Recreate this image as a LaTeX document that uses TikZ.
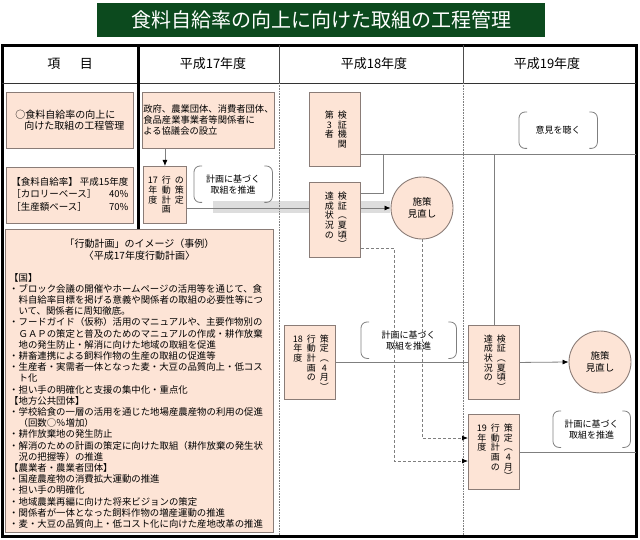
\documentclass[tikz,border=0pt]{standalone}
\usepackage{fontspec}
\setmainfont{Noto Sans CJK JP}
\usetikzlibrary{arrows.meta, calc, positioning}
\definecolor{mafGreen}{HTML}{0C4A1E}
\definecolor{mafPink}{HTML}{FDE4D6}
\definecolor{mafEdge}{HTML}{8A7C77}
\definecolor{mafGrey}{HTML}{7F7F7F}
\definecolor{mafBand}{HTML}{DDDDDD}
\tikzset{
  frameline/.style  = {line width=3pt, black},
  headtxt/.style    = {font=\fontsize{13}{15}\selectfont},
  pinkbox/.style    = {draw=mafEdge, fill=mafPink, line width=0.9pt, inner sep=0pt, anchor=north west},
  tatebox/.style    = {pinkbox, font=\fontsize{9}{9.6}\selectfont},
  bubble/.style     = {inner sep=0pt, anchor=north west, align=center, font=\fontsize{9}{11}\selectfont},
  bubbleline/.style = {mafGrey, line width=0.8pt, rounded corners=6pt},
  roundbox/.style   = {circle, draw=mafEdge, fill=mafPink, line width=0.9pt, minimum size=62pt,
                       inner sep=0pt, align=center, font=\fontsize{9.5}{11.5}\selectfont},
  conn/.style       = {mafGrey, line width=0.8pt},
  dashconn/.style   = {conn, dash pattern=on 3pt off 2pt},
  arrowto/.style    = {-{Latex[length=6pt, width=5pt, color=black]}},
  divider/.style    = {mafGrey, densely dotted, line width=0.6pt},
}

\begin{document}
\begin{tikzpicture}[x=1pt,y=-1pt]
  \newcommand{\tatecol}[1]{\hspace{2pt}\vtop{\let\\\cr\baselineskip=9.6pt\lineskiplimit=-20pt\lineskip=0pt
    \halign{\hfil##\hfil\cr#1\crcr}}\hspace{2pt}}
  \newcommand{\bracketpair}[1]{%
    \draw[bubbleline] ($(#1.north west)+(8,0)$) -- (#1.north west) -- (#1.south west) -- ($(#1.south west)+(8,0)$);
    \draw[bubbleline] ($(#1.north east)+(-8,0)$) -- (#1.north east) -- (#1.south east) -- ($(#1.south east)+(-8,0)$);}
  \useasboundingbox (0,0) rectangle (640,540);
  % title and table frame
  \node[fill=mafGreen, text=white, minimum width=448pt, minimum height=34pt,
        font=\fontsize{20}{24}\selectfont] (title) at (321,20) {食料自給率の向上に向けた取組の工程管理};
  \fill[mafBand] (213,201) rectangle (390,213);
  \draw[frameline] (2.5,45.5) rectangle (636.5,536.5);
  \draw[line width=0.8pt, black!80] (2,83) -- (636,83);
  \draw[frameline] (138,45) -- (138,229);
  \draw[line width=0.8pt, black!70] (279,45) -- (279,83);
  \draw[line width=0.8pt, black!70] (463,45) -- (463,83);
  \draw[divider] (279,83) -- (279,535);
  \draw[divider] (463,83) -- (463,535);
  \node[headtxt] (hItem) at (70,64) {項\hspace{1.5em}目};
  \node[headtxt] (h17) at (213,64) {平成17年度};
  \node[headtxt] (h18) at (374,64) {平成18年度};
  \node[headtxt] (h19) at (547,64) {平成19年度};
  % items column
  \node[pinkbox, minimum width=127pt, minimum height=56pt, align=left,
        font=\fontsize{10}{11.5}\selectfont] (goal) at (6,92)
        {○食料自給率の向上に\\\hspace*{0.9em}向けた取組の工程管理};
  \node[pinkbox, minimum width=127pt, minimum height=56pt, font=\fontsize{9.5}{12.5}\selectfont] (rate) at (6,167)
        {\begin{tabular}{@{}l@{}r@{}}
           \multicolumn{2}{@{}l@{}}{【食料自給率】\hspace{2pt}平成15年度}\\
           ［カロリーベース］&40\%\\
           ［生産額ベース］&70\%
         \end{tabular}};
  \node[pinkbox, minimum width=268pt, minimum height=303pt] (imgbox) at (5,229) {};
  \node[font=\fontsize{10}{12}\selectfont, align=center, anchor=north, inner sep=0pt] (imgttl)
        at ($(imgbox.north)+(0,10)$) {「行動計画」のイメージ（事例）\\〈平成17年度行動計画〉};
  \node[font=\fontsize{9.4}{11.2}\selectfont, align=left, anchor=north west, inner sep=0pt] (imglist)
        at ($(imgbox.north west)+(4,44)$) {%
    【国】\\
    ・ブロック会議の開催やホームページの活用等を通じて、食\\
    \hspace*{1em}料自給率目標を掲げる意義や関係者の取組の必要性等につ\\
    \hspace*{1em}いて、関係者に周知徹底。\\
    ・フードガイド（仮称）活用のマニュアルや、主要作物別の\\
    \hspace*{1em}ＧＡＰの策定と普及のためのマニュアルの作成・耕作放棄\\
    \hspace*{1em}地の発生防止・解消に向けた地域の取組を促進\\
    ・耕畜連携による飼料作物の生産の取組の促進等\\
    ・生産者・実需者一体となった麦・大豆の品質向上・低コス\\
    \hspace*{1em}ト化\\
    ・担い手の明確化と支援の集中化・重点化\\
    【地方公共団体】\\
    ・学校給食の一層の活用を通じた地場産農産物の利用の促進\\
    \hspace*{1em}（回数○％増加）\\
    ・耕作放棄地の発生防止\\
    ・解消のための計画の策定に向けた取組（耕作放棄の発生状\\
    \hspace*{1em}況の把握等）の推進\\
    【農業者・農業者団体】\\
    ・国産農産物の消費拡大運動の推進\\
    ・担い手の明確化\\
    ・地域農業再編に向けた将来ビジョンの策定\\
    ・関係者が一体となった飼料作物の増産運動の推進\\
    ・麦・大豆の品質向上・低コスト化に向けた産地改革の推進};
  % H17
  \node[pinkbox, minimum width=132pt, minimum height=56pt, align=left,
        font=\fontsize{9.3}{11}\selectfont] (council) at (142,92)
        {政府、農業団体、消費者団体、\\食品産業事業者等関係者に\\よる協議会の設立};
  \node[tatebox, minimum width=43pt, minimum height=57pt] (plan17) at (143,166)
        {\tatecol{17\\年\\度}\tatecol{行\\動\\計\\画}\tatecol{の\\策\\定}};
  \node[bubble, minimum width=78pt, minimum height=36pt] (plan17do) at (194,166) {計画に基づく\\取組を推進};
  \bracketpair{plan17do}
  % H18
  \node[tatebox, minimum width=51pt, minimum height=74pt] (tpv) at (309,92)
        {\tatecol{第\\3\\者}\tatecol{検\\証\\機\\関}};
  \node[tatebox, minimum width=51pt, minimum height=75pt] (check18) at (309,182)
        {\tatecol{達\\成\\状\\況\\の}\tatecol{検\\証\\︵\\夏\\頃\\︶}};
  \node[roundbox] (review18) at (422,208) {施策\\見直し};
  \node[tatebox, minimum width=51pt, minimum height=74pt] (plan18) at (284,325)
        {\tatecol{18\\年\\度}\tatecol{行\\動\\計\\画\\の}\tatecol{策\\定\\︵\\4\\月\\︶}};
  \node[bubble, minimum width=95pt, minimum height=36pt] (plan18do) at (361,322) {計画に基づく\\取組を推進};
  \bracketpair{plan18do}
  % H19
  \node[bubble, minimum width=78pt, minimum height=36pt] (hearing) at (519,112) {意見を聴く};
  \bracketpair{hearing}
  \node[tatebox, minimum width=51pt, minimum height=74pt] (check19) at (468,325)
        {\tatecol{達\\成\\状\\況\\の}\tatecol{検\\証\\︵\\夏\\頃\\︶}};
  \node[roundbox] (review19) at (600,362) {施策\\見直し};
  \node[tatebox, minimum width=51pt, minimum height=75pt] (plan19) at (468,414)
        {\tatecol{19\\年\\度}\tatecol{行\\動\\計\\画\\の}\tatecol{策\\定\\︵\\4\\月\\︶}};
  \node[bubble, minimum width=77pt, minimum height=36pt] (plan19do) at (553,411) {計画に基づく\\取組を推進};
  \bracketpair{plan19do}
  % connectors
  \coordinate (row17) at (0,208);
  \coordinate (fbR) at (636,154);
  \coordinate (jn18) at (383,154);
  \coordinate (k193) at (383,193);
  \coordinate (dashA) at (394,248);
  \coordinate (lowA) at (0,461);
  \coordinate (lowB) at (0,438);
  \draw[conn, arrowto] (plan17.north |- council.south) -- (plan17.north);
  \draw[conn] (plan17.east |- row17) -- (check18.west |- row17);
  \draw[conn, arrowto] (check18.east |- row17) -- (review18.west);
  \draw[conn] (tpv.east |- fbR) -- (fbR);
  \draw[conn] (check18.east |- k193) -- (k193) -- (jn18);
  \draw[conn] (check19.north |- fbR) -- (check19.north);
  \draw[dashconn, arrowto] (check18.east |- dashA) -- (dashA) |- (plan19.west |- lowA);
  \draw[dashconn, arrowto] (review18.south) |- (plan19.west |- lowB);
  \draw[conn] (plan18.east) -- (check19.west);
  \draw[conn, arrowto] (check19.east) -- (review19.west);
  \draw[conn] (plan19.east) -- (plan19.east -| fbR);
\end{tikzpicture}
\end{document}
